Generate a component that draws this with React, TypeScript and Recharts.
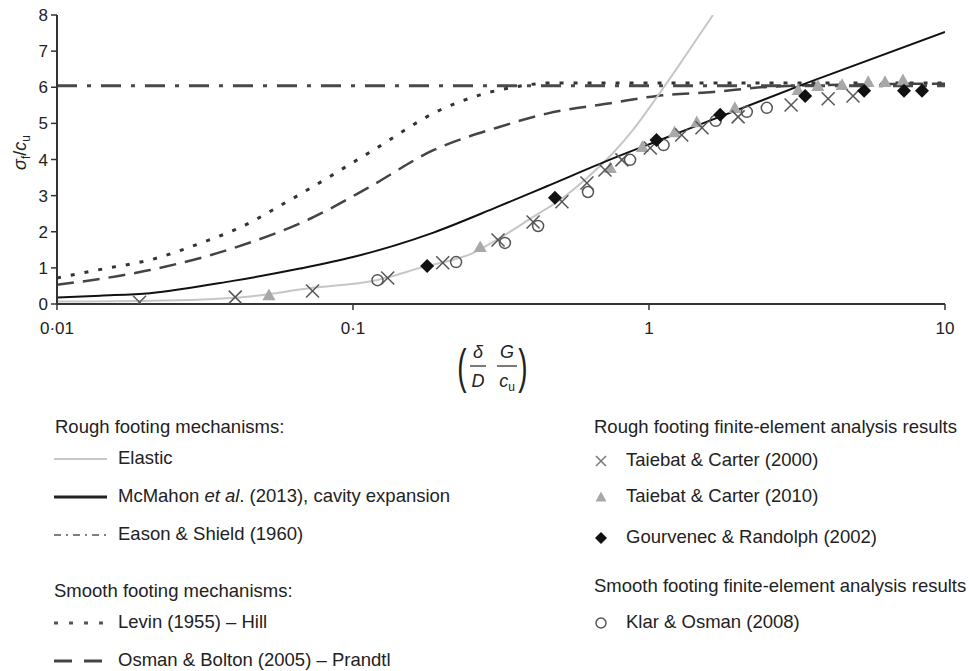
import { ComposedChart, Line, Scatter, XAxis, YAxis } from "recharts";

const FONT = '"Liberation Sans", Arial, sans-serif';

// x = (delta/D)(G/cu), y = sigma_f/cu
const xTicks = [0.01, 0.1, 1, 10];
const yTicks = [0, 1, 2, 3, 4, 5, 6, 7, 8];

const elasticX = [0.01, 0.019, 0.04, 0.072, 0.12, 0.172, 0.254, 0.314, 0.406, 0.5, 0.617, 0.756, 0.883, 1.064, 1.3, 1.645];
const elasticY = [0.07, 0.08, 0.17, 0.44, 0.66, 1.02, 1.41, 1.83, 2.41, 2.88, 3.49, 4.18, 4.82, 5.73, 6.76, 8.0];

const mcmahonX = [0.01, 0.014, 0.0206, 0.0393, 0.0662, 0.1, 0.186, 0.306, 0.452, 0.756, 1.09, 3.42, 10];
const mcmahonY = [0.18, 0.23, 0.3, 0.64, 0.98, 1.3, 1.97, 2.68, 3.26, 4.03, 4.54, 6.12, 7.53];

const easonX = [0.01, 10];
const easonY = [6.04, 6.04];

const levinX = [0.01, 0.0143, 0.0206, 0.0321, 0.0406, 0.0613, 0.114, 0.197, 0.269, 0.347, 0.474, 1, 10];
const levinY = [0.72, 0.97, 1.22, 1.75, 2.08, 2.88, 4.2, 5.37, 5.79, 6.0, 6.12, 6.12, 6.12];

const osmanX = [0.01, 0.0206, 0.0406, 0.0716, 0.1115, 0.186, 0.306, 0.452, 0.756, 1.064, 1.645, 2.5, 4.42, 10];
const osmanY = [0.53, 0.94, 1.58, 2.36, 3.2, 4.25, 4.88, 5.27, 5.57, 5.76, 5.87, 6.01, 6.07, 6.1];

const tc2000X = [0.019, 0.04, 0.073, 0.131, 0.201, 0.309, 0.406, 0.508, 0.617, 0.71, 0.81, 1.01, 1.29, 1.51, 2.0, 3.02, 4.03, 4.89];
const tc2000Y = [0.05, 0.19, 0.36, 0.72, 1.14, 1.77, 2.27, 2.83, 3.35, 3.71, 3.99, 4.32, 4.68, 4.88, 5.18, 5.51, 5.68, 5.76];

const tc2010X = [0.052, 0.269, 0.74, 0.95, 1.22, 1.45, 1.95, 3.19, 3.72, 4.49, 5.5, 6.27, 7.21];
const tc2010Y = [0.25, 1.58, 3.77, 4.35, 4.76, 5.04, 5.43, 5.93, 6.04, 6.07, 6.15, 6.15, 6.2];

const grX = [0.178, 0.481, 1.06, 1.74, 3.37, 5.33, 7.27, 8.36];
const grY = [1.05, 2.94, 4.54, 5.24, 5.76, 5.9, 5.9, 5.9];

const koX = [0.121, 0.223, 0.326, 0.422, 0.622, 0.863, 1.12, 1.68, 2.14, 2.5];
const koY = [0.66, 1.16, 1.69, 2.16, 3.1, 3.99, 4.4, 5.07, 5.32, 5.43];

const toPoints = (xs: number[], ys: number[]) => xs.map((x, i) => ({ x, y: ys[i] }));

const CrossMark = ({ cx, cy, s = 6.5, color = "#555" }: any) => (
  <g stroke={color} strokeWidth={1.5}>
    <line x1={cx - s} y1={cy - s} x2={cx + s} y2={cy + s} />
    <line x1={cx - s} y1={cy + s} x2={cx + s} y2={cy - s} />
  </g>
);

const TriangleMark = ({ cx, cy, s = 6.5 }: any) => (
  <polygon points={`${cx},${cy - s} ${cx + s},${cy + s * 0.8} ${cx - s},${cy + s * 0.8}`} fill="#a8a8a8" />
);

const DiamondMark = ({ cx, cy, s = 7 }: any) => (
  <polygon points={`${cx},${cy - s} ${cx + s},${cy} ${cx},${cy + s} ${cx - s},${cy}`} fill="#111" />
);

const CircleMark = ({ cx, cy, r = 5.5 }: any) => (
  <circle cx={cx} cy={cy} r={r} fill="none" stroke="#555" strokeWidth={1.5} />
);

function XLabel({ viewBox }: any) {
  const cx = viewBox.x + viewBox.width / 2 - 9;
  const bar = 366;
  return (
    <g fontFamily={FONT} fill="#222">
      <text transform={`translate(${cx - 30},383) scale(1,1.75)`} fontSize={28} textAnchor="middle">(</text>
      <text x={cx - 14} y={bar - 8} fontSize={18} fontStyle="italic" textAnchor="middle">δ</text>
      <line x1={cx - 22} x2={cx - 6} y1={bar} y2={bar} stroke="#222" strokeWidth={1.2} />
      <text x={cx - 14} y={bar + 21} fontSize={18} fontStyle="italic" textAnchor="middle">D</text>
      <text x={cx + 15} y={bar - 8} fontSize={18} fontStyle="italic" textAnchor="middle">G</text>
      <line x1={cx + 5} x2={cx + 25} y1={bar} y2={bar} stroke="#222" strokeWidth={1.2} />
      <text x={cx + 15} y={bar + 21} fontSize={18} fontStyle="italic" textAnchor="middle">
        c<tspan fontSize={12} dy={4} fontStyle="normal">u</tspan>
      </text>
      <text transform={`translate(${cx + 31},383) scale(1,1.75)`} fontSize={28} textAnchor="middle">)</text>
    </g>
  );
}

function YLabel({ viewBox }: any) {
  const cy = viewBox.y + viewBox.height / 2 - 7;
  return (
    <text transform={`translate(26,${cy}) rotate(-90)`} textAnchor="middle" fontFamily={FONT} fontSize={18} fill="#222">
      <tspan fontStyle="italic">σ</tspan>
      <tspan fontSize={12} dy={4}>f</tspan>
      <tspan dy={-4}>/</tspan>
      <tspan fontStyle="italic">c</tspan>
      <tspan fontSize={12} dy={4}>u</tspan>
    </text>
  );
}

const lineLegend = [
  { name: "Elastic", y: 459, stroke: "#c8c8c8", width: 2, dash: undefined },
  { name: "McMahon", y: 497, stroke: "#222", width: 3, dash: undefined },
  { name: "Eason & Shield (1960)", y: 535, stroke: "#555", width: 1.5, dash: "7 5 2 5" },
  { name: "Levin (1955) – Hill", y: 623, stroke: "#555", width: 3, dash: "4 11" },
  { name: "Osman & Bolton (2005) – Prandtl", y: 661, stroke: "#444", width: 3, dash: "18 12" },
];

const markLegend = [
  { name: "Taiebat & Carter (2000)", y: 461, mark: "cross" },
  { name: "Taiebat & Carter (2010)", y: 497, mark: "triangle" },
  { name: "Gourvenec & Randolph (2002)", y: 538, mark: "diamond" },
  { name: "Klar & Osman (2008)", y: 623, mark: "circle" },
];

function LegendBlock() {
  const fs = 18.5;
  return (
    <svg width={969} height={671} style={{ position: "absolute", left: 0, top: 0, pointerEvents: "none" }}>
      <g fontFamily={FONT} fontSize={fs} fill="#222">
        <text x={55} y={433}>Rough footing mechanisms:</text>
        <text x={54} y={597}>Smooth footing mechanisms:</text>
        <text x={594} y={433}>Rough footing finite-element analysis results</text>
        <text x={594} y={592}>Smooth footing finite-element analysis results</text>
        {lineLegend.map((l) => (
          <g key={l.name}>
            <line x1={54} x2={107} y1={l.y} y2={l.y} stroke={l.stroke} strokeWidth={l.width} strokeDasharray={l.dash} />
            <text x={118} y={l.y + 5}>
              {l.name === "McMahon" ? (
                <>
                  McMahon <tspan fontStyle="italic">et al</tspan>. (2013), cavity expansion
                </>
              ) : (
                l.name
              )}
            </text>
          </g>
        ))}
        {markLegend.map((m) => (
          <g key={m.name}>
            {m.mark === "cross" && <CrossMark cx={601} cy={m.y} s={5} color="#777" />}
            {m.mark === "triangle" && <TriangleMark cx={601} cy={m.y} s={5.5} />}
            {m.mark === "diamond" && <DiamondMark cx={601} cy={m.y} s={6} />}
            {m.mark === "circle" && <CircleMark cx={601} cy={m.y} r={5} />}
            <text x={626} y={m.y + 5}>{m.name}</text>
          </g>
        ))}
      </g>
    </svg>
  );
}

export default function App() {
  const tickStyle = { fill: "#222", fontSize: 17, fontFamily: FONT };
  return (
    <div style={{ position: "absolute", left: 0, top: 0, width: 969, height: 671, background: "#fff", overflow: "hidden" }}>
      <ComposedChart width={969} height={400} margin={{ top: 15, right: 24, bottom: 0, left: 0 }}>
        <XAxis
          type="number"
          dataKey="x"
          scale="log"
          domain={[0.01, 10]}
          ticks={xTicks}
          allowDataOverflow
          height={96}
          tickSize={6}
          tickMargin={12}
          tick={tickStyle}
          tickFormatter={(v: number) => String(v).replace(".", "·")}
          axisLine={{ stroke: "#333", strokeWidth: 2 }}
          tickLine={{ stroke: "#333", strokeWidth: 1.5 }}
          label={{ content: (p: any) => <XLabel {...p} /> }}
        />
        <YAxis
          type="number"
          dataKey="y"
          domain={[0, 8]}
          ticks={yTicks}
          allowDataOverflow
          width={57}
          tickSize={6}
          tickMargin={3}
          tick={tickStyle}
          axisLine={{ stroke: "#333", strokeWidth: 2 }}
          tickLine={{ stroke: "#333", strokeWidth: 1.5 }}
          label={{ content: (p: any) => <YLabel {...p} /> }}
        />
        <Line data={toPoints(easonX, easonY)} dataKey="y" type="linear" stroke="#4a4a4a" strokeWidth={3} strokeDasharray="20 10 4 10" dot={false} activeDot={false} isAnimationActive={false} />
        <Line data={toPoints(levinX, levinY)} dataKey="y" type="monotone" stroke="#333" strokeWidth={3} strokeDasharray="4 10" dot={false} activeDot={false} isAnimationActive={false} />
        <Line data={toPoints(osmanX, osmanY)} dataKey="y" type="monotone" stroke="#444" strokeWidth={2.5} strokeDasharray="17 9" dot={false} activeDot={false} isAnimationActive={false} />
        <Line data={toPoints(elasticX, elasticY)} dataKey="y" type="monotone" stroke="#c6c6c6" strokeWidth={2} dot={false} activeDot={false} isAnimationActive={false} />
        <Line data={toPoints(mcmahonX, mcmahonY)} dataKey="y" type="monotone" stroke="#111" strokeWidth={2} dot={false} activeDot={false} isAnimationActive={false} />
        <Scatter data={toPoints(koX, koY)} dataKey="y" shape={(p: any) => <CircleMark cx={p.cx} cy={p.cy} />} isAnimationActive={false} />
        <Scatter data={toPoints(tc2010X, tc2010Y)} dataKey="y" shape={(p: any) => <TriangleMark cx={p.cx} cy={p.cy} />} isAnimationActive={false} />
        <Scatter data={toPoints(tc2000X, tc2000Y)} dataKey="y" shape={(p: any) => <CrossMark cx={p.cx} cy={p.cy} />} isAnimationActive={false} />
        <Scatter data={toPoints(grX, grY)} dataKey="y" shape={(p: any) => <DiamondMark cx={p.cx} cy={p.cy} />} isAnimationActive={false} />
      </ComposedChart>
      <LegendBlock />
    </div>
  );
}
